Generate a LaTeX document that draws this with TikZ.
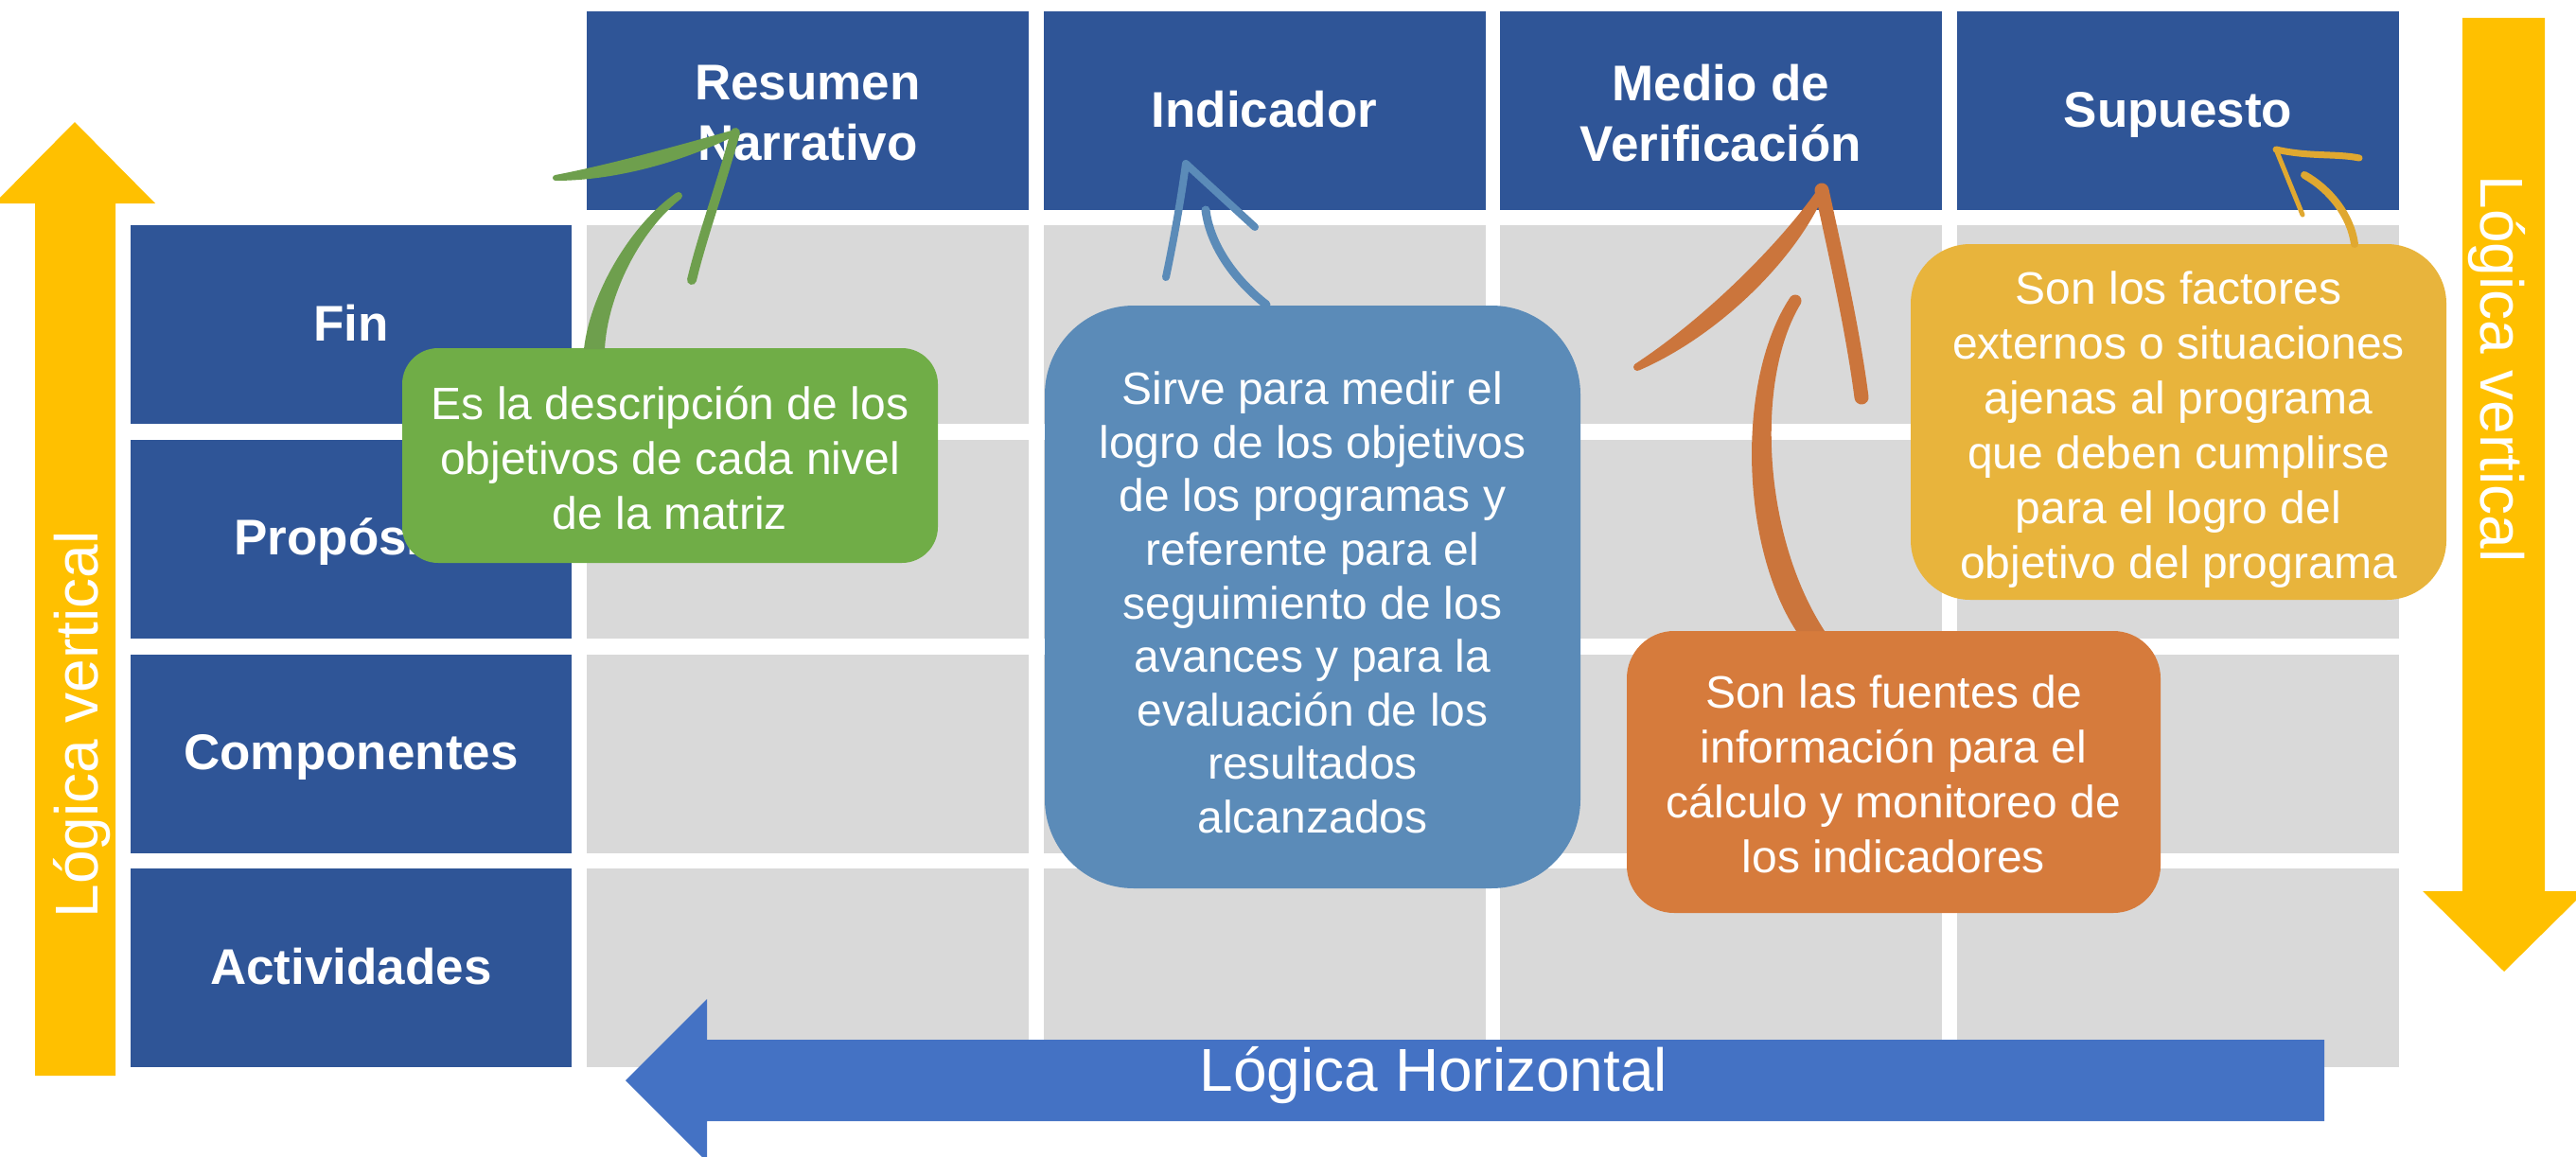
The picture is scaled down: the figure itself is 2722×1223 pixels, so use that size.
\documentclass[tikz,border=0pt]{standalone}
\usepackage{fontspec}
\setmainfont{Liberation Sans}
\definecolor{hdrblue}{HTML}{2F5597}
\definecolor{cellgray}{HTML}{D9D9D9}
\definecolor{gbox}{HTML}{70AD47}
\definecolor{gline}{HTML}{6E9F4D}
\definecolor{bbox}{HTML}{5B8BB8}
\definecolor{bline}{HTML}{5B8BB8}
\definecolor{obox}{HTML}{D67B3C}
\definecolor{oline}{HTML}{CB753C}
\definecolor{ybox}{HTML}{E8B43C}
\definecolor{yline}{HTML}{E0A830}
\definecolor{yarrow}{HTML}{FFC000}
\definecolor{harrow}{HTML}{4472C4}
\begin{document}
\begin{tikzpicture}[x=1pt,y=-1pt,
  hdr/.style={fill=hdrblue, inner sep=0pt, minimum width=467pt, minimum height=210pt,
    text=white, align=center, font=\fontsize{53}{64}\selectfont\bfseries},
  oneline/.style={text height=34pt, text depth=0pt},
  rowhdr/.style={hdr, oneline, minimum width=466pt},
  cellbox/.style={fill=cellgray, inner sep=0pt, minimum width=467pt, minimum height=210pt},
  callout/.style={inner sep=0pt, minimum width=566pt},
  calltext/.style={inner sep=0pt, text=white, align=center, font=\fontsize{48}{58}\selectfont},
  biglabel/.style={text=white, font=\fontsize{64}{70}\selectfont, inner sep=0pt},
  hand/.style={line cap=round, line join=round},
]
\useasboundingbox (0,0) rectangle (2722,1223);

% grid cells
\foreach \cx [count=\i] in {853.5,1336,1818.5,2301.5} {
  \foreach \cy [count=\j] in {343,569.5,796.5,1023} {
    \node[cellbox] (c\i\j) at (\cx,\cy) {};
  }
}

% column headers
\node[hdr] (h1) at (853.5,117) {};
\node[hdr] (h2) at (1336,117) {};
\node[hdr] (h3) at (1818.5,117) {};
\node[hdr] (h4) at (2301.5,117) {};
\node[hdr, fill=none, minimum width=0pt, minimum height=0pt] (h1t) at (853.5,120) {Resumen\\Narrativo};
\node[hdr, fill=none, minimum width=0pt, minimum height=0pt, oneline] (h2t) at (1336,117) {Indicador};
\node[hdr, fill=none, minimum width=0pt, minimum height=0pt] (h3t) at (1818.5,120) {Medio de\\Verificación};
\node[hdr, fill=none, minimum width=0pt, minimum height=0pt, oneline] (h4t) at (2301.5,117) {Supuesto};

% row headers
\node[rowhdr] (r1) at (371,343) {Fin};
\node[rowhdr] (r2) at (371,569.5) {Propósito};
\node[rowhdr] (r3) at (371,796.5) {Componentes};
\node[rowhdr] (r4) at (371,1023) {Actividades};

% left vertical arrow
\fill[yarrow] (37,1137) -- (37,215) -- (-6,215) -- (79,129) -- (164,215) -- (122,215) -- (122,1137) -- cycle;
\node[biglabel, rotate=90, anchor=base] (lv1) at (103,766) {Lógica vertical};

% right vertical arrow
\fill[yarrow] (2602,19) -- (2689,19) -- (2689,942) -- (2732,942) -- (2646,1027) -- (2560,942) -- (2602,942) -- cycle;
\node[biglabel, rotate=-90, anchor=base] (lv2) at (2621,390) {Lógica vertical};

% horizontal arrow
\fill[harrow] (2456,1099) -- (747,1099) -- (747,1056) -- (661,1142) -- (747,1228) -- (747,1185) -- (2456,1185) -- cycle;
\node[biglabel, anchor=base] (lh) at (1515,1153) {Lógica Horizontal};

% callouts
\node[callout, fill=gbox, rounded corners=38pt, minimum height=227pt] (gcall) at (708,481.5) {};
\node[calltext] (gtxt) at (708,484) {Es la descripción de los\\objetivos de cada nivel\\de la matriz};
\node[callout, fill=bbox, rounded corners=94pt, minimum height=616pt] (bcall) at (1387,631) {};
\node[calltext, font=\fontsize{48}{56.6}\selectfont] (btxt) at (1387,637)
  {Sirve para medir el\\logro de los objetivos\\de los programas y\\referente para el\\seguimiento de los\\avances y para la\\evaluación de los\\resultados\\alcanzados};
\node[callout, fill=obox, rounded corners=50pt, minimum width=564pt, minimum height=298pt] (ocall) at (2001,816) {};
\node[calltext] (otxt) at (2001,818)
  {Son las fuentes de\\información para el\\cálculo y monitoreo de\\los indicadores};
\node[callout, fill=ybox, rounded corners=63pt, minimum height=376pt] (ycall) at (2302,446) {};
\node[calltext] (ytxt) at (2302,454)
  {Son los factores\\externos o situaciones\\ajenas al programa\\que deben cumplirse\\para el logro del\\objetivo del programa};

% green hand arrow
\coordinate (g0) at (628,370);
\coordinate (g1) at (717,207);
\coordinate (gt) at (777,140);
\coordinate (gl) at (587,188);
\coordinate (gr) at (731,296);
\fill[gline] (617,369) .. controls (624,308) and (668,236) .. (714.6,203.8)
  -- (719.4,210.2) .. controls (676,244) and (642,312) .. (639,369) -- cycle;
\fill[gline] (g1) circle (4);
\fill[gline] (587.3,191) .. controls (651.7,190.8) and (722.8,170.5) .. (778.1,142.8)
  -- (775.9,137.2) .. controls (717.2,153.5) and (648.3,173.2) .. (586.7,185) -- cycle;
\fill[gline] (gl) circle (3) (gt) circle (3);
\draw[hand, gline, line width=10pt] (gt) .. controls (762,195) and (742,250) .. (gr);

% blue hand arrow
\coordinate (b0) at (1338,322);
\coordinate (b1) at (1274,222);
\coordinate (bt) at (1253,173);
\coordinate (bl) at (1232,293);
\coordinate (br) at (1326,240);
\draw[hand, bline, line width=9pt] (b0) .. controls (1300,292) and (1278,255) .. (b1);
\draw[hand, bline, line width=8pt] (bt) .. controls (1248,210) and (1240,255) .. (bl);
\draw[hand, bline, line width=8pt] (bt) -- (br);

% orange hand arrow
\coordinate (o0) at (1913,667);
\coordinate (o1) at (1897,318);
\coordinate (ot) at (1925,201);
\coordinate (ol) at (1730,388);
\coordinate (or) at (1967,420);
\fill[oline] (1928,667) .. controls (1862.6,566.8) and (1854.3,401.7) .. (1902.5,321.5)
  -- (1891.5,314.5) .. controls (1835.7,398.3) and (1837.4,573.2) .. (1898,667) -- cycle;
\fill[oline] (o1) circle (6.5);
\fill[oline] (1928.5,202.9) .. controls (1899.4,272.5) and (1817.3,354.5) .. (1731.9,391.5)
  -- (1728.1,384.5) .. controls (1802.7,335.5) and (1880.6,257.5) .. (1921.5,199.1) -- cycle;
\fill[oline] (ot) circle (4) (ol) circle (4);
\draw[hand, oline, line width=15pt] (ot) .. controls (1940,270) and (1958,350) .. (or);

% yellow hand arrow
\coordinate (y0) at (2488,258);
\coordinate (y1) at (2435,185);
\coordinate (yt) at (2405,158);
\coordinate (yr) at (2493,167);
\coordinate (yd) at (2433,227);
\draw[hand, yline, line width=8pt] (y0) .. controls (2484,228) and (2462,200) .. (y1);
\draw[hand, yline, line width=7pt] (yt) .. controls (2440,166) and (2468,162) .. (yr);
\draw[hand, yline, line width=5pt] (yt) -- (yd);
\end{tikzpicture}
\end{document}
